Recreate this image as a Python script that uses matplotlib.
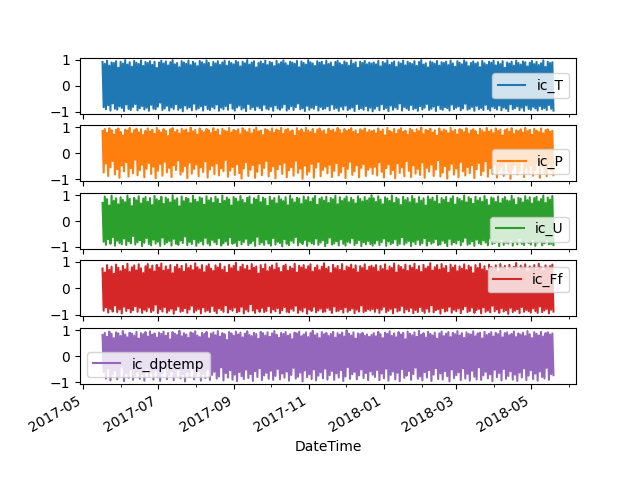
import numpy as np
import pandas as pd
import matplotlib
matplotlib.use("Agg")
import matplotlib.pyplot as plt
import matplotlib.dates as mdates

start_date = "2017-05-17"
end_date = "2018-05-19"
names = ["ic_T", "ic_P", "ic_U", "ic_Ff", "ic_dptemp"]
colors = ["#1f77b4", "#ff7f0e", "#2ca02c", "#d62728", "#9467bd"]
legend_locs = ["center right", "lower right", "lower right", "upper right", "lower left"]

# peak values (hundredths)
T_high = [92, 85, 97, 78, 90, 88, 95, 70, 93, 86, 99, 82, 91, 74, 96, 89, 84, 98, 77, 92,
          88, 95, 81, 93, 69, 90, 97, 86, 94, 79, 91, 99, 83, 88, 72, 95, 90, 85, 97, 80,
          93, 87, 76, 96, 91, 84, 98, 89, 73, 92, 86, 95, 81, 90, 97, 78, 94, 88, 83, 96,
          91, 75, 93, 87, 99, 82, 90, 95, 71, 88, 94, 85, 97, 80, 92, 89, 76, 96, 84, 91,
          98, 87, 79, 93, 90, 85, 96, 72, 94, 88, 82, 99, 91, 86, 77, 95, 89, 93, 80, 97,
          84, 90, 74, 92, 96, 87, 81, 94, 89, 78, 98, 85, 91, 70, 93, 88, 96, 83, 90, 86,
          90, 83, 96, 75, 92, 87, 98, 81, 89, 94, 73, 91, 86, 97, 79, 93, 88, 84, 95, 77,
          92, 99, 82, 87, 71, 94, 90, 85, 96, 78, 91, 88, 93, 80, 97, 86, 74, 95, 89, 83,
          98, 91, 76, 88, 94, 85, 90, 72, 96, 87, 81, 93, 89, 97, 79, 92, 84, 95, 70, 90,
          86, 93, 78, 97, 88, 82, 94, 91, 75, 89, 96, 84, 92, 80, 87, 98, 73, 93, 88, 91]
T_low = [-82, -90, -75, -95, -68, -88, -92, -79, -85, -97, -72, -89, -93, -81, -70, -94, -86, -78, -91, -84,
         -96, -73, -88, -90, -80, -65, -93, -87, -77, -95, -83, -89, -71, -92, -85, -98, -76, -88, -82, -94,
         -69, -91, -86, -79, -95, -74, -89, -93, -81, -87, -72, -96, -84, -90, -78, -92, -67, -88, -95, -83,
         -76, -91, -85, -97, -70, -89, -82, -93, -79, -86, -94, -73, -88, -91, -80, -96, -75, -87, -92, -84,
         -71, -95, -89, -78, -93, -82, -68, -90, -86, -97, -77, -92, -84, -88, -74, -95, -81, -90, -87, -79,
         -94, -72, -89, -85, -96, -80, -91, -76, -93, -88, -83, -97, -70, -90, -86, -92, -78, -95, -84, -98,
         -88, -79, -94, -71, -90, -85, -97, -76, -92, -83, -89, -68, -95, -81, -87, -93, -74, -90, -86, -96,
         -78, -91, -84, -70, -93, -88, -80, -97, -75, -89, -92, -82, -86, -95, -72, -90, -84, -79, -94, -87,
         -69, -92, -88, -81, -96, -77, -90, -85, -93, -73, -89, -95, -80, -86, -91, -76, -94, -83, -88, -97,
         -71, -90, -86, -79, -93, -84, -96, -75, -89, -92, -81, -87, -95, -78, -90, -85, -93, -74, -88, -95]

P_high = [85, 93, 78, 96, 88, 72, 90, 95, 82, 68, 91, 87, 97, 76, 89, 94, 80, 92, 70, 86,
          95, 83, 90, 74, 97, 88, 79, 93, 85, 66, 92, 96, 81, 89, 75, 94, 87, 91, 78, 98,
          84, 90, 71, 95, 86, 80, 93, 88, 77, 96, 82, 91, 69, 94, 87, 83, 97, 79, 90, 85,
          92, 73, 96, 88, 81, 94, 76, 90, 98, 84, 87, 70, 93, 89, 82, 95, 78, 91, 86, 97,
          74, 90, 94, 83, 88, 67, 96, 85, 92, 79, 97, 87, 81, 93, 75, 90, 95, 84, 88, 72,
          94, 86, 91, 80, 97, 89, 77, 93, 85, 90, 96, 82, 88, 74, 92, 87, 95, 80, 89, 84,
          88, 76, 95, 83, 91, 69, 97, 86, 80, 93, 74, 90, 96, 82, 87, 71, 94, 89, 78, 92,
          85, 98, 73, 90, 86, 94, 79, 88, 67, 95, 83, 91, 87, 76, 97, 84, 90, 72, 93, 89,
          81, 96, 75, 88, 92, 85, 70, 94, 87, 80, 97, 83, 90, 77, 95, 86, 91, 68, 89, 93,
          82, 96, 74, 88, 85, 92, 79, 97, 84, 90, 71, 94, 87, 81, 95, 76, 89, 92, 83, 86]
P_low = [-75, -40, -88, -55, -30, -82, -62, -95, -48, -70, -35, -90, -58, -78, -25, -85, -66, -45, -93, -60,
         -38, -80, -52, -97, -68, -42, -87, -33, -74, -57, -92, -47, -65, -28, -83, -71, -50, -96, -36, -79,
         -61, -44, -89, -55, -73, -31, -94, -63, -49, -81, -39, -86, -58, -70, -26, -91, -67, -53, -84, -43,
         -77, -98, -59, -35, -88, -64, -46, -95, -72, -40, -85, -57, -30, -90, -69, -51, -97, -62, -44, -80,
         -37, -93, -66, -54, -87, -29, -76, -60, -99, -48, -83, -71, -41, -95, -56, -34, -89, -65, -52, -78,
         -45, -92, -68, -38, -86, -74, -50, -96, -61, -33, -84, -70, -47, -93, -57, -42, -88, -64, -55, -80,
         -52, -86, -35, -72, -94, -58, -43, -81, -66, -97, -39, -76, -55, -89, -30, -68, -92, -47, -79, -61,
         -84, -36, -95, -57, -71, -44, -88, -63, -27, -90, -75, -50, -98, -65, -41, -83, -59, -93, -34, -70,
         -86, -54, -77, -46, -96, -62, -38, -85, -69, -31, -91, -58, -80, -43, -94, -67, -52, -88, -36, -74,
         -99, -60, -45, -82, -71, -33, -92, -56, -78, -48, -87, -64, -40, -95, -53, -76, -89, -42, -68, -85]

U_high = [70, 95, 85, 60, 98, 78, 88, 65, 92, 82, 73, 99, 86, 58, 90, 80, 96, 68, 87, 93,
          75, 89, 62, 97, 84, 79, 94, 66, 91, 85, 72, 100, 81, 88, 57, 95, 77, 90, 86, 69,
          98, 83, 74, 92, 88, 63, 96, 80, 89, 71, 94, 85, 67, 99, 78, 91, 84, 60, 93, 87,
          76, 97, 82, 70, 90, 95, 64, 88, 83, 98, 73, 91, 86, 59, 94, 80, 89, 68, 96, 84,
          77, 92, 61, 99, 85, 72, 90, 87, 66, 95, 81, 93, 75, 88, 97, 63, 86, 91, 79, 94,
          70, 89, 84, 98, 65, 92, 78, 87, 95, 73, 90, 82, 68, 96, 86, 76, 93, 80, 88, 100,
          88, 74, 96, 83, 65, 92, 87, 78, 99, 70, 90, 85, 62, 94, 81, 89, 73, 97, 86, 68,
          93, 79, 88, 60, 95, 84, 91, 76, 98, 66, 89, 82, 93, 71, 87, 96, 64, 90, 85, 78,
          99, 72, 92, 86, 67, 94, 80, 89, 75, 97, 83, 61, 91, 88, 74, 95, 69, 86, 93, 80,
          77, 98, 84, 63, 90, 87, 72, 96, 81, 92, 68, 89, 94, 76, 85, 99, 70, 91, 83, 97]
U_low = [-80, -92, -70, -88, -62, -95, -76, -85, -90, -68, -93, -78, -86, -58, -91, -82, -74, -97, -84, -66,
         -89, -94, -72, -87, -80, -96, -64, -90, -83, -77, -95, -69, -88, -92, -75, -85, -60, -93, -81, -89,
         -71, -96, -84, -78, -91, -65, -87, -94, -73, -82, -90, -67, -95, -86, -79, -92, -63, -88, -84, -97,
         -74, -90, -81, -69, -93, -86, -77, -96, -61, -89, -83, -92, -72, -87, -95, -66, -91, -80, -85, -98,
         -70, -88, -93, -76, -84, -62, -94, -82, -89, -73, -96, -79, -86, -90, -68, -92, -83, -75, -97, -85,
         -64, -91, -87, -78, -94, -71, -88, -95, -80, -84, -67, -93, -86, -74, -97, -82, -90, -77, -89, -95,
         -87, -75, -93, -82, -68, -96, -79, -90, -85, -71, -94, -88, -63, -91, -84, -77, -97, -80, -89, -73,
         -92, -86, -66, -95, -78, -88, -83, -70, -93, -90, -76, -85, -97, -69, -91, -82, -87, -74, -94, -80,
         -65, -92, -88, -79, -96, -72, -86, -90, -75, -83, -94, -68, -89, -85, -78, -97, -71, -92, -84, -87,
         -73, -95, -81, -90, -67, -88, -93, -76, -85, -91, -70, -96, -83, -79, -94, -86, -72, -90, -88, -93]

Ff_high = [75, 60, 88, 70, 82, 55, 90, 78, 65, 85, 72, 93, 62, 80, 87, 68, 91, 76, 58, 84,
           92, 73, 86, 64, 89, 79, 94, 67, 83, 71, 88, 57, 81, 90, 74, 85, 63, 92, 77, 86,
           69, 95, 80, 72, 88, 61, 84, 91, 75, 66, 87, 79, 93, 70, 82, 59, 89, 76, 85, 97,
           64, 81, 90, 73, 86, 68, 92, 78, 83, 56, 88, 74, 91, 65, 80, 87, 71, 94, 77, 62,
           85, 90, 67, 82, 75, 93, 60, 86, 79, 88, 72, 84, 91, 63, 78, 87, 69, 82, 95, 74,
           81, 58, 89, 76, 85, 70, 92, 66, 83, 79, 90, 73, 87, 61, 84, 77, 91, 68, 82, 86,
           79, 88, 64, 85, 73, 91, 68, 83, 77, 94, 60, 87, 81, 72, 90, 66, 86, 78, 93, 70,
           84, 62, 89, 75, 82, 95, 67, 80, 88, 71, 92, 76, 85, 59, 90, 79, 87, 65, 83, 74,
           91, 69, 86, 80, 57, 88, 77, 93, 72, 84, 66, 90, 81, 75, 87, 63, 92, 78, 85, 70,
           89, 74, 82, 96, 68, 86, 79, 91, 64, 83, 76, 88, 71, 93, 80, 67, 87, 75, 84, 90]
Ff_low = [-85, -72, -92, -78, -88, -65, -90, -80, -95, -70, -86, -76, -91, -83, -68, -89, -74, -93, -81, -87,
          -73, -90, -84, -62, -94, -79, -88, -71, -92, -85, -77, -96, -82, -69, -89, -86, -75, -93, -80, -66,
          -91, -84, -78, -95, -72, -88, -83, -90, -67, -86, -94, -76, -82, -89, -64, -92, -79, -85, -73, -91,
          -87, -70, -95, -81, -88, -60, -84, -93, -77, -89, -74, -90, -86, -68, -92, -80, -87, -75, -94, -83,
          -71, -89, -91, -78, -85, -66, -93, -82, -88, -73, -96, -80, -86, -70, -91, -84, -77, -90, -88, -74,
          -82, -93, -69, -87, -85, -79, -92, -72, -89, -83, -76, -94, -81, -88, -65, -90, -86, -79, -84, -78,
          -89, -76, -93, -81, -70, -91, -85, -78, -95, -73, -88, -84, -67, -92, -80, -87, -74, -94, -82, -90,
          -71, -86, -93, -77, -89, -64, -91, -83, -79, -96, -75, -88, -85, -70, -92, -81, -87, -76, -94, -80,
          -68, -90, -86, -73, -93, -82, -78, -95, -72, -89, -84, -91, -66, -87, -80, -93, -75, -88, -83, -97,
          -74, -90, -85, -79, -94, -71, -89, -82, -87, -92, -76, -86, -93, -69, -90, -84, -78, -95, -81, -88]

D_high = [82, 90, 75, 95, 86, 70, 92, 88, 78, 97, 84, 73, 91, 87, 80, 94, 68, 89, 85, 93,
          76, 96, 83, 88, 72, 91, 86, 95, 79, 90, 65, 93, 87, 82, 98, 77, 89, 84, 71, 92,
          88, 96, 80, 74, 90, 86, 94, 69, 87, 92, 81, 97, 76, 89, 85, 63, 93, 88, 79, 95,
          84, 91, 73, 87, 96, 82, 78, 90, 86, 67, 94, 89, 80, 92, 75, 88, 97, 83, 71, 90,
          86, 93, 79, 85, 66, 91, 88, 95, 77, 84, 92, 74, 89, 98, 81, 87, 70, 93, 85, 90,
          78, 86, 94, 72, 89, 83, 91, 76, 100, 87, 80, 92, 68, 88, 85, 90, 79, 84, 75, 82,
          89, 77, 94, 85, 70, 91, 86, 96, 79, 88, 73, 93, 84, 90, 66, 95, 87, 81, 92, 75,
          98, 83, 89, 72, 94, 86, 80, 91, 68, 88, 95, 78, 87, 93, 74, 90, 85, 97, 80, 89,
          71, 92, 86, 84, 96, 77, 88, 91, 69, 94, 82, 87, 93, 76, 90, 85, 98, 73, 89, 92,
          81, 86, 95, 74, 88, 83, 91, 78, 97, 85, 70, 93, 87, 80, 94, 76, 89, 92, 84, 88]
D_low = [-60, -85, -45, -92, -70, -55, -88, -76, -40, -95, -65, -82, -50, -90, -73, -58, -86, -68, -93, -48,
         -78, -62, -89, -54, -80, -94, -66, -43, -87, -72, -57, -91, -75, -52, -84, -69, -96, -61, -79, -46,
         -88, -74, -56, -93, -67, -83, -49, -90, -71, -59, -85, -77, -42, -92, -64, -81, -53, -89, -70, -95,
         -60, -76, -87, -51, -83, -68, -94, -57, -79, -45, -91, -73, -63, -86, -55, -90, -75, -48, -88, -66,
         -82, -58, -93, -71, -44, -85, -78, -62, -96, -54, -80, -69, -87, -50, -92, -74, -61, -84, -47, -89,
         -72, -56, -90, -65, -81, -53, -94, -77, -41, -86, -68, -59, -88, -73, -50, -83, -64, -91, -57, -70,
         -79, -52, -91, -66, -84, -47, -93, -71, -58, -88, -63, -95, -49, -82, -74, -56, -90, -68, -43, -86,
         -77, -92, -60, -81, -53, -94, -70, -45, -87, -65, -89, -57, -76, -96, -50, -83, -72, -61, -91, -46,
         -85, -67, -93, -55, -78, -88, -42, -90, -73, -59, -84, -69, -95, -51, -80, -64, -92, -48, -86, -75,
         -57, -89, -70, -94, -62, -81, -46, -91, -74, -53, -87, -66, -93, -58, -79, -85, -44, -90, -68, -72]

highs = [T_high, P_high, U_high, Ff_high, D_high]
lows = [T_low, P_low, U_low, Ff_low, D_low]

n = 2 * len(T_high)
idx = pd.date_range(start_date, end_date, periods=n)
data = {}
for name, h, l in zip(names, highs, lows):
    v = np.empty(n)
    v[0::2] = np.array(h) / 100.0
    v[1::2] = np.array(l) / 100.0
    data[name] = v
df = pd.DataFrame(data, index=idx)

fig, axes = plt.subplots(5, 1, sharex=True, figsize=(6.4, 4.8), dpi=100)
for ax, name, c, loc in zip(axes, names, colors, legend_locs):
    ax.plot(df.index, df[name], color=c, lw=1.5, label=name)
    ax.set_yticks([-1, 0, 1])
    ax.legend(loc=loc)
    ax.xaxis.set_major_locator(mdates.MonthLocator(bymonth=[1, 3, 5, 7, 9, 11]))
    ax.xaxis.set_major_formatter(mdates.DateFormatter("%Y-%m"))
    ax.xaxis.set_minor_locator(mdates.MonthLocator())
axes[-1].set_xlabel("DateTime")
fig.autofmt_xdate()
fig.savefig("out.png", dpi=100)
